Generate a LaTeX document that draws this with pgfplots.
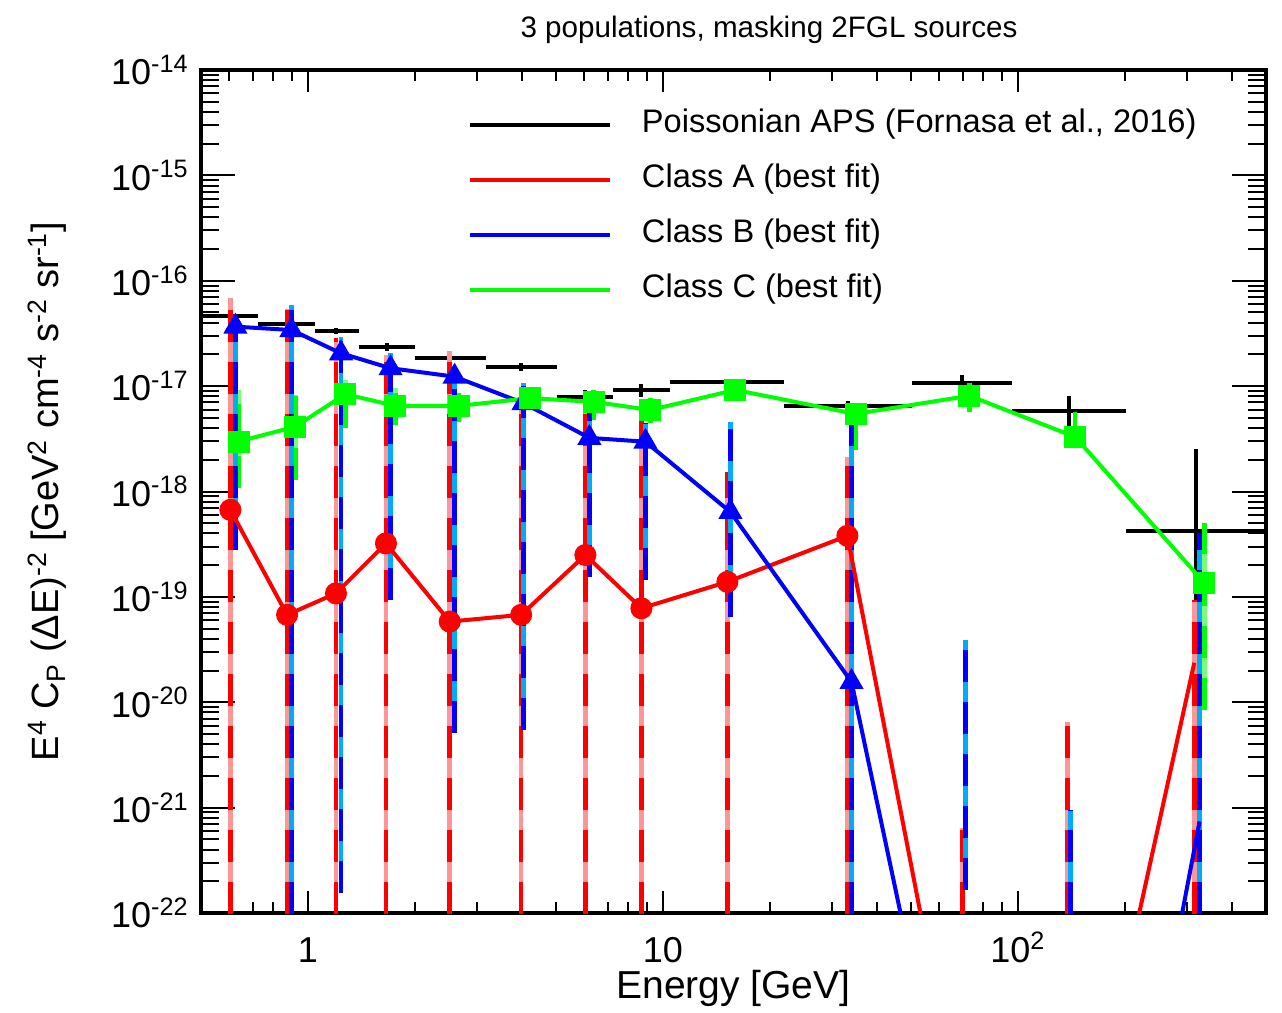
\documentclass[border=0pt]{standalone}
\usepackage{fontspec}
\setmainfont{Liberation Sans}
\usepackage{pgfplots}
\usepackage{pgfplotstable}
\pgfplotsset{compat=1.18}
\definecolor{cred}{RGB}{255,0,0}
\definecolor{cpink}{RGB}{255,150,150}
\definecolor{cblue}{RGB}{0,0,255}
\definecolor{clblue}{RGB}{0,170,255}
\definecolor{cgreen}{RGB}{0,255,0}
\definecolor{clgreen}{RGB}{120,255,120}

% Class A best fit
\pgfplotstableread{
x y
0.605 6.7e-19
0.874 6.76e-20
1.20 1.08e-19
1.66 3.22e-19
2.51 5.83e-20
3.99 6.76e-20
6.05 2.5e-19
8.70 7.8e-20
15.2 1.39e-19
33.1 3.8e-19
69.8 8.7e-25
137.8 7.9e-26
314 2.37e-20
}\classA
% Class B best fit
\pgfplotstableread{
x y
0.625 3.67e-17
0.899 3.41e-17
1.24 2.05e-17
1.71 1.48e-17
2.59 1.23e-17
4.05 6.9e-18
6.21 3.23e-18
8.93 2.97e-18
15.5 6.4e-19
34.0 1.56e-20
71.1 1.26e-25
140.6 2.6e-28
325 7.4e-22
}\classB
% Class C best fit
\pgfplotstableread{
x y
0.638 2.98e-18
0.922 4.13e-18
1.275 8.4e-18
1.764 6.5e-18
2.66 6.5e-18
4.23 7.7e-18
6.38 7.1e-18
9.22 5.94e-18
16.0 9.2e-18
34.9 5.45e-18
73 8.1e-18
145 3.3e-18
335 1.36e-19
}\classC
% Class A error bars (x, lower / upper)
\pgfplotstableread{
x y
0.605 1e-23
0.605 6.87e-17
nan nan
0.874 1e-23
0.874 5.4e-17
nan nan
1.20 1e-23
1.20 2.87e-17
nan nan
1.66 1e-23
1.66 1.98e-17
nan nan
2.51 1e-23
2.51 2.16e-17
nan nan
3.99 1e-23
3.99 9.6e-18
nan nan
6.05 1e-23
6.05 6.6e-18
nan nan
8.70 1e-23
8.70 5.57e-18
nan nan
15.2 1e-23
15.2 1.53e-18
nan nan
33.1 1e-23
33.1 2.13e-18
nan nan
69.8 1e-23
69.8 6.4e-22
nan nan
137.8 1e-23
137.8 6.5e-21
nan nan
314 1e-23
314 9.4e-20
}\errA
% Class B error bars
\pgfplotstableread{
x y
0.625 2.79e-19
0.625 4.74e-17
nan nan
0.899 1e-23
0.899 5.9e-17
nan nan
1.24 1.56e-22
1.24 2.93e-17
nan nan
1.71 9.4e-20
1.71 2.07e-17
nan nan
2.59 5.1e-21
2.59 1.49e-17
nan nan
4.05 5.5e-21
4.05 1.07e-17
nan nan
6.21 1.55e-19
6.21 5.57e-18
nan nan
8.93 1.45e-19
8.93 4.48e-18
nan nan
15.5 6.46e-20
15.5 4.57e-18
nan nan
34.0 1e-23
34.0 4.57e-18
nan nan
71.1 1.66e-22
71.1 3.9e-20
nan nan
140.6 1e-23
140.6 9.5e-22
nan nan
325 1e-23
325 4.05e-19
}\errB
% Class C error bars
\pgfplotstableread{
x y
0.638 1.08e-18
0.638 9.2e-18
nan nan
0.922 1.29e-18
0.922 8.26e-18
nan nan
1.275 4.0e-18
1.275 1.15e-17
nan nan
1.764 4.28e-18
1.764 9.6e-18
nan nan
2.66 4.57e-18
2.66 8.6e-18
nan nan
4.23 6.2e-18
4.23 9.6e-18
nan nan
6.38 4.78e-18
6.38 9.2e-18
nan nan
9.22 4.48e-18
9.22 7.73e-18
nan nan
16.0 7.4e-18
16.0 1.15e-17
nan nan
34.9 2.48e-18
34.9 6.35e-18
nan nan
73 5.69e-18
73 1.07e-17
nan nan
145 2.89e-18
145 5.69e-18
nan nan
335 8.5e-21
335 5.04e-19
}\errC
% Poissonian APS: energy bins (horizontal bars)
\pgfplotstableread{
x y
0.5 4.63e-17
0.726 4.63e-17
nan nan
0.726 3.86e-17
1.045 3.86e-17
nan nan
1.045 3.36e-17
1.39 3.36e-17
nan nan
1.39 2.37e-17
2.0 2.37e-17
nan nan
2.0 1.86e-17
3.17 1.86e-17
nan nan
3.17 1.51e-17
5.02 1.51e-17
nan nan
5.02 7.94e-18
7.25 7.94e-18
nan nan
7.25 9.2e-18
10.45 9.2e-18
nan nan
10.45 1.1e-17
21.9 1.1e-17
nan nan
21.9 6.5e-18
50.3 6.5e-18
nan nan
50.3 1.08e-17
96.3 1.08e-17
nan nan
96.3 5.86e-18
201 5.86e-18
nan nan
201 4.26e-19
500 4.26e-19
}\apsx
% Poissonian APS: vertical error bars
\pgfplotstableread{
x y
0.6 4.5e-17
0.6 4.8e-17
nan nan
0.87 3.75e-17
0.87 3.97e-17
nan nan
1.2 3.13e-17
1.2 3.6e-17
nan nan
1.67 2.16e-17
1.67 2.57e-17
nan nan
2.52 1.8e-17
2.52 1.92e-17
nan nan
3.99 1.39e-17
3.99 1.66e-17
nan nan
6.03 7.08e-18
6.03 9.2e-18
nan nan
8.7 7.9e-18
8.7 1.05e-17
nan nan
15.1 1.07e-17
15.1 1.13e-17
nan nan
33.2 5.69e-18
33.2 7.24e-18
nan nan
69.6 9.2e-18
69.6 1.28e-17
nan nan
139 3.84e-18
139 8.07e-18
nan nan
317 1e-23
317 2.54e-18
}\apsy

\pgfplotsset{
  mybaseaxis/.style={
    width=532.5pt, height=421.5pt, scale only axis,
    xmin=0.5, xmax=500, ymin=1e-22, ymax=1e-14,
    axis line style={line width=1.6pt},
    tick align=inside,
    tick style={line width=1pt, black},
  },
  errlight/.style={line width=2.3pt, unbounded coords=jump, forget plot},
  errdark/.style={line width=2.3pt, unbounded coords=jump, dash pattern=on 16pt off 10pt, forget plot},
}

\begin{document}
\begin{tikzpicture}
% axis carrying the x ticks (shorter ticks)
\begin{loglogaxis}[mybaseaxis,
  ytick=\empty,
  xtick={1,10,100},
  xticklabels={1,10,10\textsuperscript{2}},
  minor xtick={0.6,0.7,0.8,0.9,2,3,4,5,6,7,8,9,20,30,40,50,60,70,80,90,200,300,400},
  major tick length=11pt, minor tick length=5.5pt,
  xticklabel style={font=\fontsize{18}{20}\selectfont, anchor=base, inner sep=0pt, yshift=-24.5pt},
  xlabel={Energy [GeV]},
  xlabel style={at={(rel axis cs:0.5,0)}, anchor=base, inner sep=0pt, yshift=-42.5pt, font=\fontsize{19.5}{22}\selectfont},
]
\addplot[draw=none, forget plot] coordinates {(1,1e-18) (10,1e-17)};
\end{loglogaxis}
% main axis with y ticks and data
\begin{loglogaxis}[mybaseaxis,
  xtick=\empty,
  ytick={1e-22,1e-21,1e-20,1e-19,1e-18,1e-17,1e-16,1e-15,1e-14},
  yticklabels={10\textsuperscript{-22},10\textsuperscript{-21},10\textsuperscript{-20},10\textsuperscript{-19},10\textsuperscript{-18},10\textsuperscript{-17},10\textsuperscript{-16},10\textsuperscript{-15},10\textsuperscript{-14}},
  minor ytick={2e-22,3e-22,4e-22,5e-22,6e-22,7e-22,8e-22,9e-22,
               2e-21,3e-21,4e-21,5e-21,6e-21,7e-21,8e-21,9e-21,
               2e-20,3e-20,4e-20,5e-20,6e-20,7e-20,8e-20,9e-20,
               2e-19,3e-19,4e-19,5e-19,6e-19,7e-19,8e-19,9e-19,
               2e-18,3e-18,4e-18,5e-18,6e-18,7e-18,8e-18,9e-18,
               2e-17,3e-17,4e-17,5e-17,6e-17,7e-17,8e-17,9e-17,
               2e-16,3e-16,4e-16,5e-16,6e-16,7e-16,8e-16,9e-16,
               2e-15,3e-15,4e-15,5e-15,6e-15,7e-15,8e-15,9e-15},
  major tick length=17pt, minor tick length=9pt,
  yticklabel style={font=\fontsize{18}{20}\selectfont, inner xsep=6pt},
  ylabel={E\textsuperscript{4} C\textsubscript{P} (ΔE)\textsuperscript{-2} [GeV\textsuperscript{2} cm\textsuperscript{-4} s\textsuperscript{-2} sr\textsuperscript{-1}]},
  every axis y label/.style={at={(rel axis cs:0,0.5)}, xshift=-77pt, rotate=90, anchor=center, font=\fontsize{19}{22}\selectfont},
  title={3 populations, masking 2FGL sources},
  title style={at={(rel axis cs:0.5333,1)}, anchor=base, yshift=10.5pt, font=\fontsize{14.8}{17}\selectfont},
  legend cell align=left,
  legend image code/.code={\draw[#1] (0pt,0pt) -- (70pt,0pt);},
  legend style={at={(rel axis cs:0.2507,0.953)}, anchor=north west, draw=none, fill=none,
    inner sep=0pt, outer sep=0pt, row sep=12.5pt,
    font=\fontsize{16.3}{19}\selectfont,
    nodes={inner sep=0pt, text height=11.5pt, text depth=3.5pt},
    /tikz/every odd column/.style={column sep=15pt}},
]
% Poissonian APS
\addplot[black, line width=2pt, unbounded coords=jump, forget plot] table {\apsx};
\addplot[black, line width=2pt, unbounded coords=jump, forget plot] table {\apsy};
% error bars
\addplot[clgreen, errlight] table {\errC};
\addplot[cgreen, errdark] table {\errC};
\addplot[cpink, errlight] table {\errA};
\addplot[cred, errdark] table {\errA};
\addplot[clblue, errlight] table {\errB};
\addplot[cblue, errdark] table {\errB};
% best-fit curves
\addplot[cred, line width=2pt, mark=*, mark size=4.5pt, mark indices={1,2,3,4,5,6,7,8,9,10,13}, forget plot] table {\classA};
\addplot[cblue, line width=2pt, mark=triangle*, mark size=5pt, mark options={solid}, mark indices={1,2,3,4,5,6,7,8,9,10,13}, forget plot] table {\classB};
\addplot[cgreen, line width=2pt, mark=square*, mark size=4.5pt, forget plot] table {\classC};
% legend
\addlegendimage{black, line width=2pt}
\addlegendentry{Poissonian APS (Fornasa et al., 2016)}
\addlegendimage{cred, line width=2pt}
\addlegendentry{Class A (best fit)}
\addlegendimage{cblue, line width=2pt}
\addlegendentry{Class B (best fit)}
\addlegendimage{cgreen, line width=2pt}
\addlegendentry{Class C (best fit)}
\end{loglogaxis}
\pgfresetboundingbox
\path[use as bounding box] ([shift={(-100.5pt,-49.5pt)}]current axis.south west) rectangle ([shift={(8pt,35pt)}]current axis.north east);
\end{tikzpicture}
\end{document}
